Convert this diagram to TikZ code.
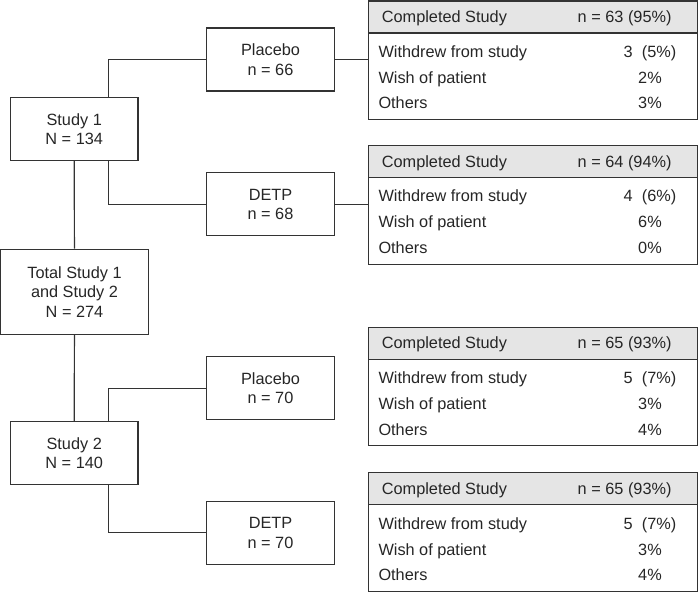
\documentclass[tikz,border=0pt]{standalone}
\usepackage{fontspec}
\setmainfont{Liberation Sans}
\begin{document}
\begin{tikzpicture}
	[x=1pt,y=-1pt,
	every node/.style={font=\fontsize{16.3}{19.6}\selectfont,text=black!85},
	box/.style={draw=black!80,line width=1.2pt,align=center,
		minimum width=127.6pt,minimum height=63pt},
	head/.style={draw=black!80,line width=1.2pt,fill=gray!20,
		minimum width=329.4pt,minimum height=32pt},
	body/.style={draw=black!80,line width=1.2pt,
		minimum width=329.4pt,minimum height=86.5pt},
	cell/.style={inner sep=0pt},
	link/.style={draw=black!80,line width=1.2pt}]
	\useasboundingbox (0,0) rectangle (699,593);
	\node[box] (s1) at (74.2,129) {Study 1\\N = 134};
	\node[box,minimum width=147.6pt,minimum height=85pt] (tot) at (74.5,291.8) {Total Study 1\\and Study 2\\N = 274};
	\node[box] (s2) at (74.2,453.3) {Study 2\\N = 140};
	\node[box] (pl1) at (270.5,59.5) {Placebo\\n = 66};
	\node[box] (dt1) at (270.5,204.3) {DETP\\n = 68};
	\node[box] (pl2) at (270.5,388.2) {Placebo\\n = 70};
	\node[box] (dt2) at (270.5,532.7) {DETP\\n = 70};
	\foreach \i/\ty/\nval/\wdrew/\wish/\other in {1/1/63 (95\%)/3\ \ (5\%)/2\%/3\%,
		2/145.7/64 (94\%)/4\ \ (6\%)/6\%/0\%,
		3/327.3/65 (93\%)/5\ \ (7\%)/3\%/4\%,
		4/472.7/65 (93\%)/5\ \ (7\%)/3\%/4\%}
	{
		\node[head] (hd\i) at (533,\ty+16) {};
		\node[body] (tb\i) at (533,\ty+75.25) {};
		\node[cell,anchor=base west] (cs\i) at (381.7,\ty+21.7) {Completed Study};
		\node[cell,anchor=base east] (nn\i) at (671.7,\ty+21.7) {n = \nval};
		\node[cell,anchor=base west] (wd\i) at (378.3,\ty+56.3) {Withdrew from study};
		\node[cell,anchor=base west] (ws\i) at (378.3,\ty+82.3) {Wish of patient};
		\node[cell,anchor=base west] (ot\i) at (378.3,\ty+108) {Others};
		\node[cell,anchor=base] (wdv\i) at (650,\ty+56.3) {\wdrew};
		\node[cell,anchor=base] (wsv\i) at (650,\ty+82.3) {\wish};
		\node[cell,anchor=base] (otv\i) at (650,\ty+108) {\other};
	}
	\draw[link] (s1) -- (tot) -- (s2);
	\draw[link] ([xshift=34pt]s1.north) |- (pl1.west);
	\draw[link] ([xshift=34pt]s1.south) |- (dt1.west);
	\draw[link] ([xshift=34pt]s2.north) |- (pl2.west);
	\draw[link] ([xshift=34pt]s2.south) |- (dt2.west);
	\draw[link] (pl1.east) -- (pl1.east -| tb1.west);
	\draw[link] (dt1.east) -- (dt1.east -| tb2.west);
\end{tikzpicture}
\end{document}
